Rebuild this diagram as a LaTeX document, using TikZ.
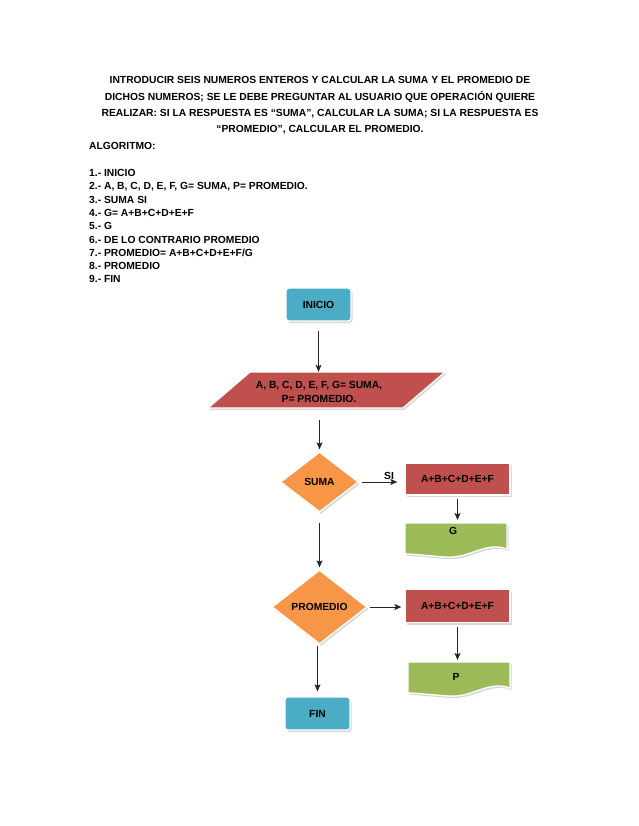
\documentclass[tikz,border=0pt]{standalone}
\usepackage{fontspec}
\setmainfont{Liberation Sans}
\usetikzlibrary{shapes.geometric,shadows,arrows.meta,calc}
\definecolor{boxblue}{HTML}{4BACC6}
\definecolor{boxred}{HTML}{C0504D}
\definecolor{boxorange}{HTML}{F79646}
\definecolor{boxgreen}{HTML}{9BBB59}
\begin{document}
\begin{tikzpicture}[x=1pt,y=-1pt,
  every node/.style={font=\fontsize{10.3}{13.3}\selectfont\bfseries, inner sep=0pt},
  shp/.style={draw=white, line width=1.3pt, drop shadow={opacity=0.3,shadow xshift=1.5pt,shadow yshift=-2pt}},
  term/.style={shp, fill=boxblue, rounded corners=3pt, minimum width=65pt, minimum height=33pt},
  proc/.style={shp, fill=boxred, minimum width=105pt, minimum height=32pt},
  dec/.style={shp, fill=boxorange, diamond},
  arr/.style={-{Stealth[length=7pt,width=6pt,inset=1.5pt]}, line width=0.9pt, draw=black!85},
  txt/.style={text height=7.4pt, text depth=0pt}
]
\useasboundingbox[fill=white] (0,0) rectangle (638,826);

% title
\node[align=center, font=\fontsize{10.3}{16.4}\selectfont\bfseries] (title) at (320,105.5)
 {INTRODUCIR SEIS NUMEROS ENTEROS Y CALCULAR LA SUMA Y EL PROMEDIO DE\\
  DICHOS NUMEROS; SE LE DEBE PREGUNTAR AL USUARIO QUE OPERACIÓN QUIERE\\
  REALIZAR: SI LA RESPUESTA ES “SUMA”, CALCULAR LA SUMA; SI LA RESPUESTA ES\\
  “PROMEDIO”, CALCULAR EL PROMEDIO.};

\node[txt, anchor=west] (alg) at (89,146) {ALGORITMO:};
\foreach \t [count=\i] in {1.- INICIO,
  {2.- A, B, C, D, E, F, G= SUMA, P= PROMEDIO.},
  3.- SUMA SI,
  4.- G= A+B+C+D+E+F,
  5.- G,
  6.- DE LO CONTRARIO PROMEDIO,
  7.- PROMEDIO= A+B+C+D+E+F/G,
  8.- PROMEDIO,
  9.- FIN}
  \node[txt, anchor=west] (l\i) at (89,{173+13.27*(\i-1)}) {\t};

% flowchart
\node[term] (inicio) at (318.5,304.5) {INICIO};

\path[shp, fill=boxred] (250,372) -- (445,372) -- (403,408) -- (208,408) -- cycle;
\node[align=center, minimum height=36pt, font=\fontsize{10.3}{13.5}\selectfont\bfseries] (para) at (319,392)
 {A, B, C, D, E, F, G= SUMA,\\P= PROMEDIO.};

\node[dec, minimum width=78pt, minimum height=60pt] (suma) at (319.5,482) {SUMA};
\node[proc] (r1) at (457.5,479) {A+B+C+D+E+F};
\node[txt] (si) at (389,476) {SI};

\begin{scope}[shift={(405,523)}]
\path[shp, fill=boxgreen] (0,0) -- (102,0) -- (102,26)
  .. controls (80,18) and (65,36) .. (40,34)
  .. controls (25,33) and (10,31) .. (0,31) -- cycle;
\end{scope}
\node[anchor=north, text height=11.7pt, text depth=20pt, minimum width=102pt] (g) at (453,523) {G};

\node[dec, minimum width=95pt, minimum height=74pt] (prom) at (319.5,607) {PROMEDIO};
\node[proc, minimum height=33pt] (r2) at (457.5,606) {A+B+C+D+E+F};

\begin{scope}[shift={(408,662)}]
\path[shp, fill=boxgreen] (0,0) -- (102,0) -- (102,26)
  .. controls (80,18) and (65,36) .. (40,34)
  .. controls (25,33) and (10,31) .. (0,31) -- cycle;
\end{scope}
\node[anchor=north, text height=18.7pt, text depth=14pt, minimum width=102pt] (p) at (456,662) {P};

\node[term] (fin) at (317.5,713.5) {FIN};

% connectors
\draw[arr, shorten <=9pt, shorten >=2pt] (inicio.south) -- (inicio.south |- para.north);
\draw[arr, shorten <=10pt, shorten >=2pt] (suma.north |- para.south) -- (suma.north);
\draw[arr, shorten <=3pt, shorten >=7pt] (suma.east) -- (r1.west |- suma.east);
\draw[arr, shorten <=3pt, shorten >=3pt] (r1.south) -- (r1.south |- g.north);
\draw[arr, shorten <=10pt, shorten >=2pt] (suma.south) -- (prom.north);
\draw[arr, shorten <=2pt, shorten >=3pt] (prom.east) -- (r2.west |- prom.east);
\draw[arr, shorten <=4pt, shorten >=2pt] (r2.south) -- (r2.south |- p.north);
\draw[arr, shorten <=1pt, shorten >=5pt] (fin.north |- prom.south) -- (fin.north);
\end{tikzpicture}
\end{document}
